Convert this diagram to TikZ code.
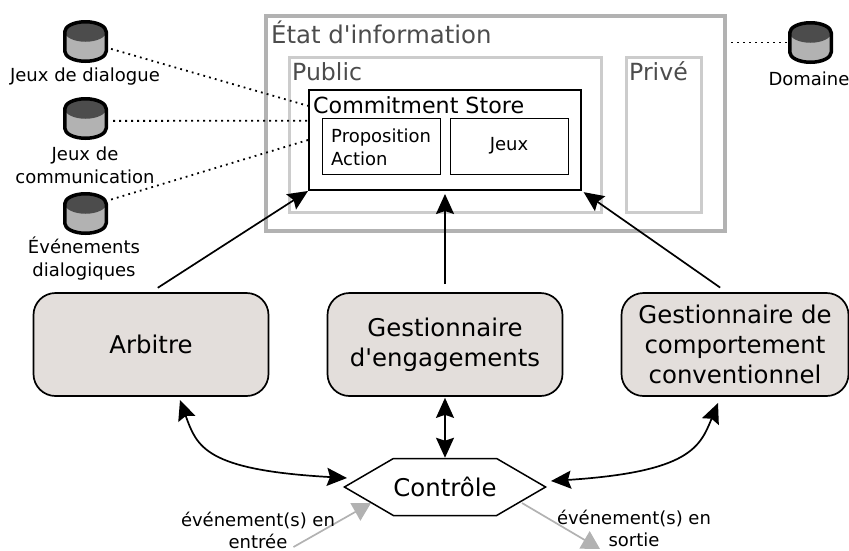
\documentclass[tikz,border=0pt]{standalone}
\usepackage{fontspec}
\setmainfont{DejaVu Sans}
\usetikzlibrary{arrows.meta,shapes.symbols}
\newcommand{\fsz}[2]{\fontsize{#1}{#2}\selectfont}
\definecolor{compfill}{HTML}{E3DEDB}
\tikzset{
  dbnode/.style={minimum width=45pt,minimum height=43pt,inner sep=0pt},
  dblabel/.style={font=\fsz{18}{23},align=center,inner sep=0pt},
  grouptitle/.style={anchor=base west,text=black!70,inner sep=0pt},
  outerframe/.style={draw=black!30,line width=4pt},
  innerframe/.style={draw=black!20,line width=3pt},
  component/.style={draw=black,line width=1.7pt,fill=compfill,rounded corners=22pt,
    minimum width=235pt,minimum height=103pt,font=\fsz{24.4}{30},align=center,inner sep=0pt},
  linkdot/.style={line width=1.8pt,dash pattern=on 1.8pt off 4.2pt},
  linkarrow/.style={line width=1.7pt,-{Stealth[length=20pt,width=18pt,inset=3pt]}},
  linkboth/.style={line width=1.7pt,{Stealth[length=20pt,width=18pt,inset=3pt]}-{Stealth[length=20pt,width=18pt,inset=3pt]}},
  linkgray/.style={draw=black!30,line width=1.7pt,-{Triangle[length=18pt,width=20pt]},black!30},
}
% database drum: name, centre
\newcommand{\database}[2]{
    \node[dbnode] (#1) at (#2) {};
    \begin{scope}[shift={(#2)}]
        \fill[black!30] (-20.75,-9.75) -- (-20.75,9.75) arc[start angle=180,end angle=0,x radius=20.75,y radius=10]
            -- (20.75,-9.75) arc[start angle=0,end angle=-180,x radius=20.75,y radius=10] -- cycle;
        \fill[black!70] (0,-9.75) ellipse[x radius=20.75,y radius=10];
        \draw[line width=3.5pt,line join=round] (-20.75,-9.75) -- (-20.75,9.75) arc[start angle=180,end angle=0,x radius=20.75,y radius=10]
            -- (20.75,-9.75) arc[start angle=0,end angle=-180,x radius=20.75,y radius=10] -- cycle;
    \end{scope}
}
\begin{document}
\begin{tikzpicture}[x=1pt,y=-1pt]
    \useasboundingbox (0,0) rectangle (849,550);

    % Information state frames
    \node[outerframe,minimum width=459pt,minimum height=215pt,inner sep=0pt] (etat) at (495.5,123.5) {};
    \node[innerframe,minimum width=312pt,minimum height=155pt,inner sep=0pt] (public) at (445,134.5) {};
    \node[innerframe,minimum width=75pt,minimum height=155pt,inner sep=0pt] (prive) at (663.5,134.5) {};
    \node[grouptitle,font=\fsz{24.4}{28}] (etattitle) at (271,43) {État d\textquotesingle information};
    \node[grouptitle,font=\fsz{23.6}{28}] (publictitle) at (292,80) {Public};
    \node[grouptitle,font=\fsz{23.6}{28}] (privetitle) at (629,80) {Privé};

    % Commitment store
    \node[draw=black,line width=2pt,fill=white,minimum width=272pt,minimum height=100pt,inner sep=0pt] (store) at (445,140) {};
    \node[anchor=base west,inner sep=0pt,font=\fsz{22.2}{26}] (storetitle) at (313,113) {Commitment Store};
    \node[draw=black,line width=0.8pt,minimum width=118pt,minimum height=56pt,inner sep=0pt] (propbox) at (381,146) {};
    \node[draw=black,line width=0.8pt,minimum width=118pt,minimum height=56pt,inner sep=0pt,font=\fsz{18}{22}] (jeux) at (509,146) {Jeux};
    \node[anchor=west,align=left,inner sep=0pt,font=\fsz{18}{23}] (proptext) at (331,147) {Proposition\\Action};

    % Databases on the left and on the right
    \database{dbdialog}{85.5,41.5}
    \database{dbcomm}{85.5,118.5}
    \database{dbevents}{85.5,213.5}
    \database{dbdomain}{810.5,42.5}
    \node[dblabel] (dialoglabel) at (85,77) {Jeux de dialogue};
    \node[dblabel] (commlabel) at (85,165.5) {Jeux de\\communication};
    \node[dblabel] (eventslabel) at (84,259) {Événements\\dialogiques};
    \node[dblabel] (domainlabel) at (809,79) {Domaine};

    \draw[linkdot,shorten <=3pt] (dbdialog) -- (store.166);
    \draw[linkdot,shorten <=5pt] (dbcomm.-6) -- (store.172);
    \draw[linkdot,shorten <=3pt] (dbevents.30) -- (store.west);
    \draw[linkdot,shorten <=4pt] (etat.east|-dbdomain) -- (dbdomain.west);

    % Components
    \node[component] (arbitre) at (151,344.5) {Arbitre};
    \node[component] (engagements) at (445,344.5) {Gestionnaire\\d\textquotesingle engagements};
    \node[component,minimum width=227pt] (comportement) at (735,344.5) {Gestionnaire de\\comportement\\conventionnel};

    \draw[linkarrow,shorten <=8pt] (arbitre.north) -- (store.south west);
    \draw[linkarrow,shorten <=8pt,shorten >=3pt] (engagements.north) -- (store.south);
    \draw[linkarrow,shorten <=8pt,shorten >=2pt] (comportement.99) -- (store.south east);

    % Control
    \node[signal,signal to=west and east,signal pointer angle=60.4,draw=black,line width=1.5pt,
      minimum width=197pt,minimum height=57pt,inner sep=0pt,fill=white,font=\fsz{24.4}{28}] (ctrl) at (445,487) {Contrôle};
    \coordinate (ctrlwest) at (347,478);
    \coordinate (ctrleast) at (551,481);
    \coordinate (arbitrefoot) at (180,400);
    \coordinate (comportementfoot) at (718,403);

    \draw[linkboth] (arbitrefoot) .. controls (197,447) and (205,470) .. (ctrlwest);
    \draw[linkboth,shorten <=1pt] (engagements.south) -- (ctrl.north);
    \draw[linkboth] (comportementfoot) .. controls (700,447) and (690,472) .. (ctrleast);

    % Events in and out
    \coordinate (evin) at (293.5,547);
    \coordinate (evinhead) at (371,503);
    \coordinate (evouttail) at (522,503);
    \coordinate (evout) at (600,549);
    \draw[linkgray] (evin) -- (evinhead);
    \draw[linkgray] (evouttail) -- (evout);
    \node[dblabel,font=\fsz{18}{22}] (evinlabel) at (258,530) {événement(s) en\\entrée};
    \node[dblabel,font=\fsz{18}{22}] (evoutlabel) at (634,528.5) {événement(s) en\\sortie};
\end{tikzpicture}
\end{document}
